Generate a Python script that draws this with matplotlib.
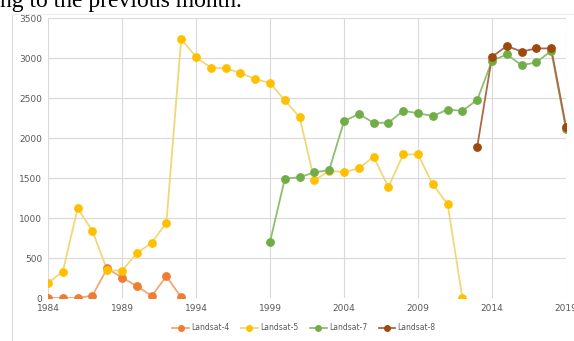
import matplotlib.pyplot as plt
from matplotlib.lines import Line2D

years4 = list(range(1984, 1994))
landsat4 = [0, 0, 0, 30, 370, 255, 150, 25, 270, 10]

years5 = list(range(1984, 2013))
landsat5 = [190, 330, 1120, 840, 350, 340, 560, 690, 940, 3240,
            3010, 2880, 2870, 2815, 2735, 2690, 2470, 2260, 1470, 1590,
            1575, 1620, 1765, 1385, 1795, 1795, 1420, 1175, 0]

years7 = list(range(1999, 2020))
landsat7 = [700, 1490, 1510, 1570, 1600, 2210, 2300, 2190, 2190, 2340,
            2310, 2275, 2355, 2340, 2475, 2965, 3045, 2910, 2945, 3090, 2110]

years8 = list(range(2013, 2020))
landsat8 = [1890, 3015, 3150, 3080, 3120, 3120, 2140]

labels = ['Landsat-4', 'Landsat-5', 'Landsat-7', 'Landsat-8']
colors = ['#ED7D31', '#FFC000', '#70AD47', '#9E480E']
line_colors = ['#F0A878', '#F2D77A', '#8FBF6E', '#A86A48']

fig = plt.figure(figsize=(5.74, 3.41), dpi=100)
ax = fig.add_axes([48 / 574, 1 - 298 / 341, 518 / 574, 280 / 341])

series = [(years4, landsat4), (years5, landsat5), (years7, landsat7), (years8, landsat8)]
handles = []
for (x, y), c, lc, lab in zip(series, colors, line_colors, labels):
    ax.plot(x, y, '-', color=lc, lw=1.3, zorder=2)
    ax.plot(x, y, 'o', color=c, ms=5.3, mec=c, zorder=3)
    handles.append(Line2D([0], [0], color=lc, lw=1.3, marker='o', ms=4,
                          mfc=c, mec=c, label=lab))

ax.set_xlim(1984, 2019)
ax.set_ylim(0, 3500)
ax.set_xticks(range(1984, 2020, 5))
ax.set_yticks(range(0, 3501, 500))
ax.grid(True, color='#D9D9D9', lw=0.8)
ax.set_axisbelow(True)
for s in ax.spines.values():
    s.set_visible(False)
ax.tick_params(length=0, labelsize=6.5, labelcolor='#595959', pad=4)

fig.legend(handles=handles, loc='center', bbox_to_anchor=(304 / 574, 1 - 328 / 341),
           ncol=4, frameon=False, fontsize=5.5, labelcolor='#595959',
           handlelength=2.2, handletextpad=0.3, columnspacing=1.5)

# chart frame edges visible in the crop
fig.add_artist(Line2D([12 / 574, 12 / 574], [0, 1 - 14 / 341], color='#D9D9D9', lw=0.8))
fig.add_artist(Line2D([12 / 574, 1], [1 - 14 / 341, 1 - 14 / 341], color='#EEEEEE', lw=0.8))

fig.text(0.0, 1 - 1 / 341, 'ng to the previous month.', family='Liberation Serif',
         fontsize=17, color='black', va='center', ha='left')

fig.savefig('out.png', dpi=100)
